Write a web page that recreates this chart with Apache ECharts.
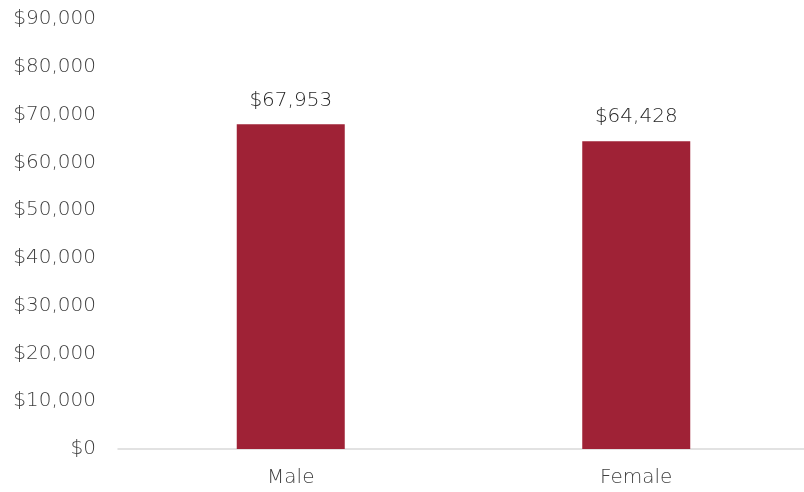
<!DOCTYPE html>
<html>
<head>
<meta charset="utf-8">
<script src="https://cdn.jsdelivr.net/npm/echarts@6/dist/echarts.min.js"></script>
<style>
  html, body { margin: 0; padding: 0; background: #ffffff; }
  #chart { width: 804px; height: 492px; }
</style>
</head>
<body>
<div id="chart"></div>
<script>
// Median earnings by sex
const categories = ['Male', 'Female'];
const earnings = [67953, 64428];
const yTicks = { min: 0, max: 90000, interval: 10000 };

const fontFamily = '"DejaVu Sans", "Open Sans", sans-serif';
const fontWeight = 200;
const fmtMoney = v => '$' + Number(v).toLocaleString('en-US');

const chart = echarts.init(document.getElementById('chart'));
chart.setOption({
  animation: false,
  grid: { left: 118, width: 691, top: 19, bottom: 43, containLabel: false, outerBoundsMode: 'none' },
  xAxis: {
    type: 'category',
    data: categories,
    axisLine: { show: true, lineStyle: { color: '#d9d9d9', width: 1.5 } },
    axisTick: { show: false },
    axisLabel: { color: '#3f3f3f', fontSize: 20, fontWeight, fontFamily, margin: 19 }
  },
  yAxis: {
    type: 'value',
    min: yTicks.min,
    max: yTicks.max,
    interval: yTicks.interval,
    splitLine: { show: false },
    axisLine: { show: false },
    axisTick: { show: false },
    axisLabel: { color: '#3f3f3f', fontSize: 20, fontWeight, fontFamily, margin: 22, formatter: fmtMoney }
  },
  series: [{
    type: 'bar',
    data: earnings,
    barWidth: 108,
    itemStyle: { color: '#9f2236' },
    label: {
      show: true,
      position: 'top',
      distance: 14,
      color: '#262626',
      fontSize: 20,
      fontWeight,
      fontFamily,
      formatter: p => fmtMoney(p.value)
    }
  }]
});
</script>
</body>
</html>
